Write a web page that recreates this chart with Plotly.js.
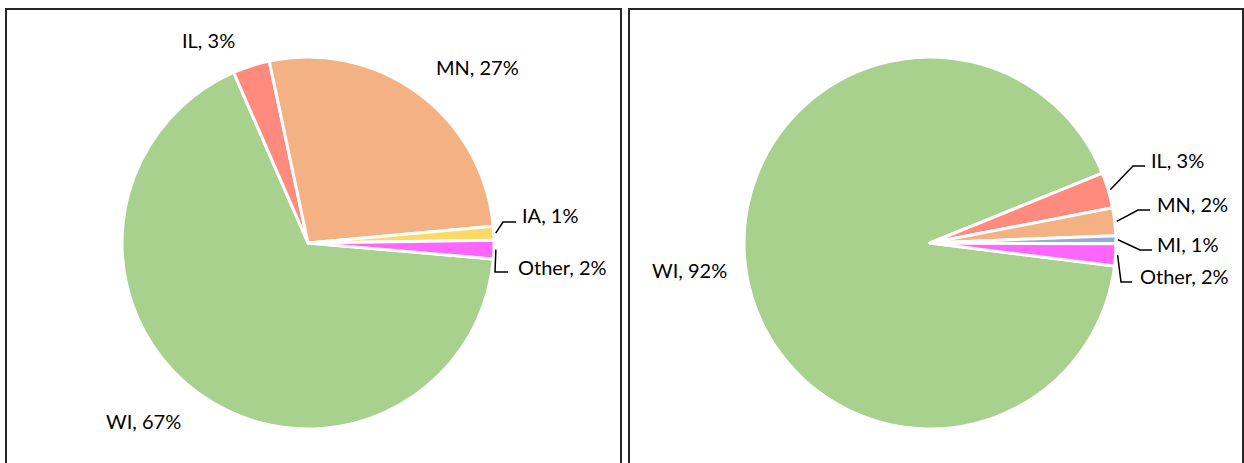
<!DOCTYPE html>
<html><head><meta charset="utf-8">
<script src="https://cdn.plot.ly/plotly-3.0.1.min.js"></script>
<style>html,body{margin:0;padding:0;background:#fff}#chart{width:1244px;height:463px}</style>
</head><body><div id="chart"></div>
<script>
// ---- data ----
const leftLabels = ['WI', 'IL', 'MN', 'IA', 'Other'];
const leftValues = [67.1, 3.2, 26.9, 1.2, 1.6];
const rightLabels = ['WI', 'IL', 'MN', 'MI', 'Other'];
const rightValues = [91.9, 3.1, 2.4, 0.7, 1.9];

// ---- styles ----
const colorMap = {WI: '#A9D18E', IL: '#FF8B7F', MN: '#F4B183', IA: '#FFD966', MI: '#8FAADC', Other: '#FF66FF'};
const W = 1244, H = 463;
const px = x => x / W, py = y => 1 - y / H;
const FONT = {family: 'Lato, "Open Sans", sans-serif', size: 20, color: '#000'};

const pies = [
  {labels: leftLabels, values: leftValues, cx: 308, cy: 243, r: 186, rotation: 94.9,
   place: {
     WI: {x: 143, y: 421, anchor: 'center'},
     IL: {x: 209, y: 40, anchor: 'center'},
     MN: {x: 477, y: 67, anchor: 'center'},
     IA: {x: 520, y: 215, anchor: 'left', elbow: [503, 222], end: [516, 222]},
     Other: {x: 516, y: 267, anchor: 'left', elbow: [495, 272], end: [508, 272]}
   }},
  {labels: rightLabels, values: rightValues, cx: 930, cy: 243, r: 186, rotation: 97.1,
   place: {
     WI: {x: 689, y: 270, anchor: 'center'},
     IL: {x: 1149, y: 160, anchor: 'left', elbow: [1133, 166], end: [1145, 166]},
     MN: {x: 1155, y: 204, anchor: 'left', elbow: [1138, 210], end: [1150, 210]},
     MI: {x: 1155, y: 244, anchor: 'left', elbow: [1140, 250], end: [1152, 250]},
     Other: {x: 1138, y: 276, anchor: 'left', elbow: [1121, 282], end: [1132, 282]}
   }}
];

const traces = [], annotations = [], shapes = [];
pies.forEach(p => {
  traces.push({
    type: 'pie', labels: p.labels, values: p.values, sort: false, direction: 'clockwise',
    rotation: p.rotation, textinfo: 'none', hoverinfo: 'label+percent', showlegend: false,
    marker: {colors: p.labels.map(l => colorMap[l]), line: {color: '#fff', width: 3}},
    domain: {x: [px(p.cx - p.r), px(p.cx + p.r)], y: [py(p.cy + p.r), py(p.cy - p.r)]}
  });
  const total = p.values.reduce((a, b) => a + b, 0);
  let cum = 0;
  p.labels.forEach((lab, i) => {
    const v = p.values[i];
    const mid = (p.rotation + (cum + v / 2) / total * 360) * Math.PI / 180;
    cum += v;
    const pct = Math.round(v / total * 100);
    const pl = p.place[lab];
    annotations.push({
      xref: 'paper', yref: 'paper', x: px(pl.x), y: py(pl.y), xanchor: pl.anchor, yanchor: 'middle',
      text: lab + ', ' + pct + '%', showarrow: false, font: FONT
    });
    if (pl.elbow) {
      const sx = p.cx + (p.r + 2) * Math.sin(mid), sy = p.cy - (p.r + 2) * Math.cos(mid);
      shapes.push({
        type: 'path', xref: 'paper', yref: 'paper',
        path: 'M ' + px(sx) + ',' + py(sy) + ' L ' + px(pl.elbow[0]) + ',' + py(pl.elbow[1]) +
              ' L ' + px(pl.end[0]) + ',' + py(pl.end[1]),
        line: {color: '#000', width: 1.5}
      });
    }
  });
});

// panel borders
shapes.push({type: 'rect', xref: 'paper', yref: 'paper', x0: px(6), x1: px(621), y0: -0.2, y1: py(9),
  line: {color: '#262626', width: 2}, layer: 'above'});
shapes.push({type: 'rect', xref: 'paper', yref: 'paper', x0: px(629), x1: px(1243), y0: -0.2, y1: py(9),
  line: {color: '#262626', width: 2}, layer: 'above'});

Plotly.newPlot('chart', traces, {
  width: W, height: H, margin: {l: 0, r: 0, t: 0, b: 0},
  paper_bgcolor: '#fff', plot_bgcolor: '#fff',
  annotations: annotations, shapes: shapes
}, {staticPlot: true});
</script></body></html>
